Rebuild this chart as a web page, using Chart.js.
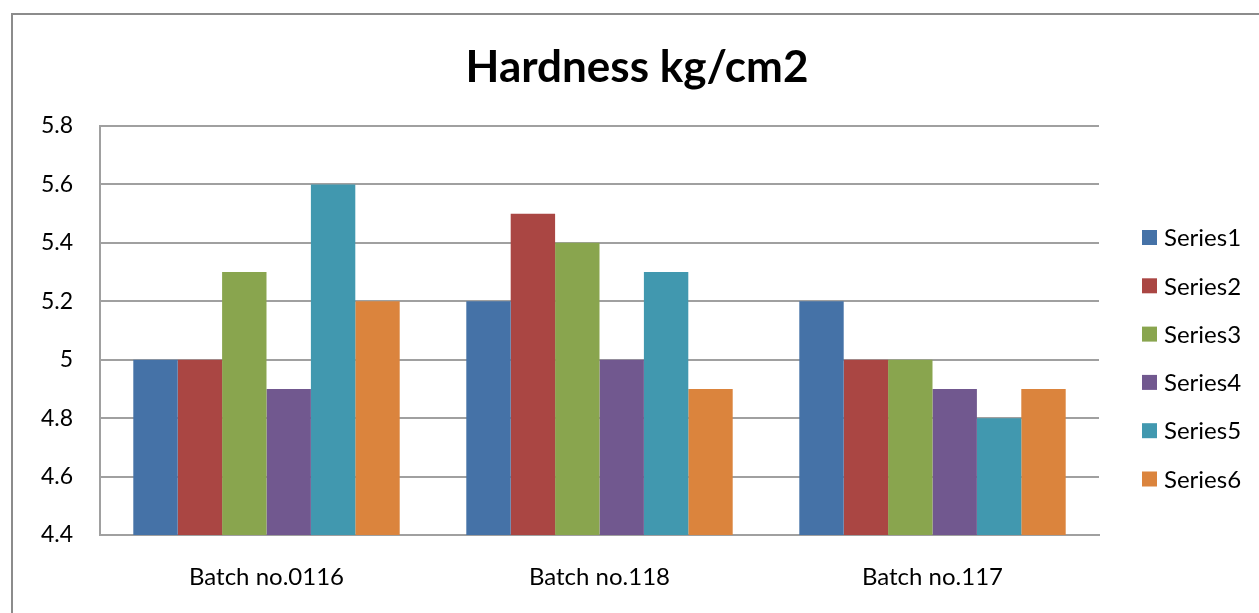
<!DOCTYPE html>
<html>
<head>
<meta charset="utf-8">
<script src="https://cdn.jsdelivr.net/npm/chart.js@4/dist/chart.umd.min.js"></script>
<style>
html,body{margin:0;padding:0;background:#fff;}
#wrap{width:1259px;height:613px;position:relative;}
</style>
</head>
<body>
<div id="wrap"><canvas id="c" width="1259" height="613"></canvas></div>
<script>
const titleText = "Hardness kg/cm2";
const categories = ["Batch no.0116", "Batch no.118", "Batch no.117"];
const seriesNames = ["Series1", "Series2", "Series3", "Series4", "Series5", "Series6"];
const series1 = [5.0, 5.2, 5.2];
const series2 = [5.0, 5.5, 5.0];
const series3 = [5.3, 5.4, 5.0];
const series4 = [4.9, 5.0, 4.9];
const series5 = [5.6, 5.3, 4.8];
const series6 = [5.2, 4.9, 4.9];
const yMin = 4.4, yMax = 5.8, yStep = 0.2;

const colors = ["#4572A7", "#AA4643", "#89A54E", "#71588F", "#4198AF", "#DB843D"];
const allSeries = [series1, series2, series3, series4, series5, series6];
const FONT = "Lato, 'Open Sans', sans-serif";

const framePlugin = {
  id: "frame",
  beforeDraw(chart) {
    const ctx = chart.ctx;
    ctx.save();
    ctx.fillStyle = "#fff";
    ctx.fillRect(0, 0, chart.width, chart.height);
    ctx.strokeStyle = "#8c8c8c";
    ctx.lineWidth = 2;
    ctx.strokeRect(12, 14, chart.width + 20, chart.height + 20);
    ctx.restore();
  }
};

const titleLegendPlugin = {
  id: "titleLegend",
  afterDraw(chart) {
    const ctx = chart.ctx;
    ctx.save();
    ctx.fillStyle = "#000";
    ctx.font = "bold 44px " + FONT;
    ctx.textAlign = "center";
    ctx.textBaseline = "middle";
    ctx.fillText(titleText, 637, 68);
    ctx.font = "24px " + FONT;
    ctx.textAlign = "left";
    chart.data.datasets.forEach((ds, i) => {
      const cy = 237.5 + i * 48.3;
      ctx.fillStyle = ds.backgroundColor;
      ctx.fillRect(1142, cy - 7.5, 15, 15);
      ctx.fillStyle = "#000";
      ctx.fillText(ds.label, 1164, cy + 1);
    });
    ctx.restore();
  }
};

new Chart(document.getElementById("c"), {
  type: "bar",
  data: {
    labels: categories,
    datasets: seriesNames.map((name, i) => ({
      label: name,
      data: allSeries[i],
      backgroundColor: colors[i],
      borderWidth: 0,
      barPercentage: 1.0,
      categoryPercentage: 0.8
    }))
  },
  options: {
    responsive: false,
    animation: false,
    devicePixelRatio: 1,
    layout: { padding: { top: 126, right: 160, left: 0, bottom: 0 } },
    plugins: {
      legend: { display: false },
      title: { display: false },
      tooltip: { enabled: false }
    },
    scales: {
      x: {
        grid: { display: false, drawTicks: false },
        border: { display: true, color: "#a0a0a0", width: 2 },
        ticks: { color: "#000", font: { family: FONT, size: 24 }, padding: 28 },
        afterFit(scale) { scale.height = 78; }
      },
      y: {
        min: yMin,
        max: yMax,
        ticks: {
          stepSize: yStep,
          color: "#000",
          font: { family: FONT, size: 23 },
          padding: 27,
          callback: (v) => String(Math.round(v * 10) / 10)
        },
        grid: { color: "#a0a0a0", lineWidth: 2, drawTicks: false },
        border: { display: true, color: "#a0a0a0", width: 2 },
        afterFit(scale) { scale.width = 100; }
      }
    }
  },
  plugins: [framePlugin, titleLegendPlugin]
});
</script>
</body>
</html>
